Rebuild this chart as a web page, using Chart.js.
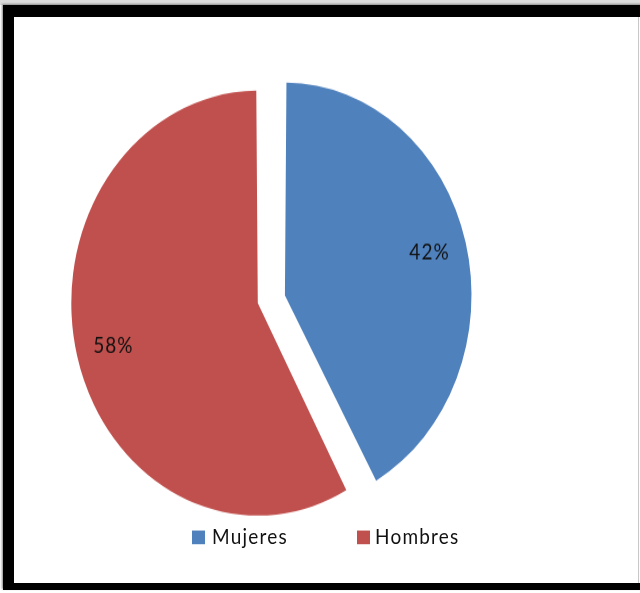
<!DOCTYPE html>
<html><head><meta charset="utf-8">
<script src="https://cdn.jsdelivr.net/npm/chart.js@4"></script>
<style>
html,body{margin:0;padding:0;background:#fff;width:640px;height:593px;overflow:hidden;position:relative}
#topstrip{position:absolute;left:0;top:0;width:640px;height:5px;background:#dcdcdc}
#frame{position:absolute;left:3px;top:5px;width:660px;height:566px;border-style:solid;border-color:#000;border-width:12px 0 7px 11px;box-shadow:-1px -1px 2px #888}
#rline{position:absolute;left:638px;top:17px;width:1px;height:566px;background:#c8c8c8}
#wrap{position:absolute;left:14px;top:18px;width:624px;height:496px;transform:scaleY(1.139);transform-origin:0 0}
#legend{position:absolute;left:0;top:0;width:624px;height:496px;font:19px Lato, sans-serif;letter-spacing:1.2px;color:#111;pointer-events:none}
.sw{position:absolute;width:13px;height:11.5px}
.lt{position:absolute;line-height:20px;white-space:nowrap}
</style>
</head><body>
<div id="topstrip"></div>
<div id="frame"></div>
<div id="rline"></div>
<div id="wrap">
<canvas id="c" width="624" height="496" style="width:624px;height:496px"></canvas>
<div id="legend"></div>
</div>
<script>
const categories = ['Mujeres', 'Hombres'];
const values = [42, 58];
const colors = ['#4F81BD', '#C0504D'];

const pctLabels = {
  id: 'pctLabels',
  afterDatasetsDraw(chart) {
    const ctx = chart.ctx;
    const meta = chart.getDatasetMeta(0);
    const total = values.reduce((a, b) => a + b, 0);
    ctx.save();
    ctx.font = '19px Lato, sans-serif';
    ctx.letterSpacing = '1px';
    ctx.fillStyle = '#111';
    ctx.textAlign = 'center';
    ctx.textBaseline = 'middle';
    meta.data.forEach((arc, i) => {
      const p = arc.getProps(['x', 'y', 'startAngle', 'endAngle', 'outerRadius', 'circumference'], true);
      const mid = (p.startAngle + p.endAngle) / 2;
      const off = (arc.options.offset || 0) / 4;
      const fix = 1 - Math.sin(Math.min(Math.PI, p.circumference));
      const r = p.outerRadius + off * fix;
      const d = off + 0.8 * r;
      ctx.fillText(Math.round(values[i] / total * 100) + '%', p.x + Math.cos(mid) * d, p.y + Math.sin(mid) * d);
    });
    ctx.restore();
  }
};

const chart = new Chart(document.getElementById('c'), {
  type: 'pie',
  data: {
    labels: categories,
    datasets: [{
      data: values,
      backgroundColor: colors,
      borderWidth: 0,
      offset: [74, 38]
    }]
  },
  options: {
    responsive: false,
    animation: false,
    radius: 177,
    layout: { padding: { left: 0, right: 118, top: 0, bottom: 0 } },
    plugins: { legend: { display: false }, tooltip: { enabled: false } }
  },
  plugins: [pctLabels]
});

// legend built from the chart's own data
const legend = document.getElementById('legend');
const swX = [178, 343];
const txX = [198, 361];
chart.data.labels.forEach((lab, i) => {
  const sw = document.createElement('div');
  sw.className = 'sw';
  sw.style.left = swX[i] + 'px';
  sw.style.top = '450px';
  sw.style.background = chart.data.datasets[0].backgroundColor[i];
  legend.appendChild(sw);
  const t = document.createElement('div');
  t.className = 'lt';
  t.style.left = txX[i] + 'px';
  t.style.top = '445px';
  t.textContent = lab;
  legend.appendChild(t);
});
</script>
</body></html>
